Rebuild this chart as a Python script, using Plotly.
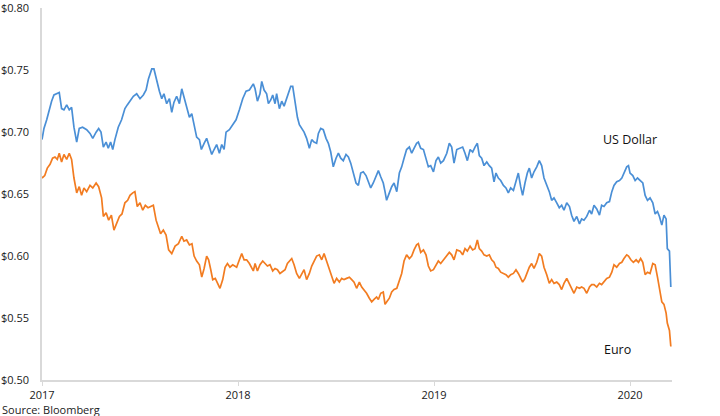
import plotly.graph_objects as go

# ---- Data (decimal years, value in $) ----
usd_dates = [
    2017.000, 2017.010, 2017.024, 2017.037, 2017.049, 2017.061, 2017.075, 2017.088, 2017.100, 2017.112,
    2017.126, 2017.139, 2017.151, 2017.163, 2017.177, 2017.190, 2017.207, 2017.228, 2017.245, 2017.259,
    2017.276, 2017.289, 2017.301, 2017.313, 2017.327, 2017.338, 2017.350, 2017.361, 2017.372, 2017.389,
    2017.406, 2017.423, 2017.435, 2017.449, 2017.466, 2017.483, 2017.500, 2017.517, 2017.531, 2017.543,
    2017.560, 2017.571, 2017.585, 2017.599, 2017.611, 2017.622, 2017.636, 2017.650, 2017.662, 2017.673,
    2017.687, 2017.701, 2017.713, 2017.724, 2017.738, 2017.752, 2017.764, 2017.776, 2017.789, 2017.803,
    2017.813, 2017.827, 2017.840, 2017.854, 2017.866, 2017.878, 2017.891, 2017.905, 2017.917, 2017.929,
    2017.939, 2017.956, 2017.973, 2017.990, 2018.007, 2018.024, 2018.041, 2018.058, 2018.078,
    2018.087, 2018.099, 2018.112, 2018.121, 2018.133, 2018.146, 2018.155, 2018.167, 2018.177, 2018.189,
    2018.197, 2018.211, 2018.223, 2018.235, 2018.245, 2018.257, 2018.269, 2018.279, 2018.291, 2018.303,
    2018.313, 2018.325, 2018.337, 2018.350, 2018.364, 2018.376, 2018.388, 2018.401, 2018.410, 2018.422,
    2018.435, 2018.449, 2018.461, 2018.473, 2018.486, 2018.500, 2018.512, 2018.524, 2018.537, 2018.551,
    2018.563, 2018.575, 2018.588, 2018.602, 2018.614, 2018.626, 2018.639, 2018.653, 2018.665, 2018.677,
    2018.690, 2018.704, 2018.716, 2018.728, 2018.741, 2018.750, 2018.758, 2018.772, 2018.784, 2018.796,
    2018.810, 2018.823, 2018.835, 2018.847, 2018.860, 2018.874, 2018.886, 2018.898, 2018.911, 2018.920,
    2018.932, 2018.946, 2018.959, 2018.971, 2018.983, 2018.997, 2019.010, 2019.022, 2019.034, 2019.048,
    2019.065, 2019.078, 2019.090, 2019.102, 2019.116,
    2019.133, 2019.146, 2019.158, 2019.170, 2019.184, 2019.197, 2019.209, 2019.221, 2019.231, 2019.243,
    2019.255, 2019.269, 2019.282, 2019.294, 2019.306, 2019.316, 2019.328, 2019.340, 2019.354, 2019.367,
    2019.379, 2019.391, 2019.405, 2019.418, 2019.430, 2019.442, 2019.452, 2019.464, 2019.476, 2019.486,
    2019.498, 2019.510, 2019.524, 2019.537, 2019.549, 2019.561, 2019.575, 2019.588, 2019.600, 2019.612,
    2019.626, 2019.639, 2019.651, 2019.663, 2019.677, 2019.691, 2019.702, 2019.714, 2019.728, 2019.742,
    2019.753, 2019.765, 2019.779, 2019.793, 2019.804, 2019.816, 2019.830, 2019.844, 2019.855, 2019.867,
    2019.881, 2019.895, 2019.907, 2019.918, 2019.932, 2019.946, 2019.958, 2019.969, 2019.983, 2019.992,
    2020.000, 2020.014, 2020.026, 2020.038, 2020.051, 2020.065, 2020.077, 2020.089, 2020.102, 2020.116,
    2020.128, 2020.140, 2020.150, 2020.162, 2020.173, 2020.184, 2020.190, 2020.201, 2020.208,
]
usd_values = [
    0.694, 0.703, 0.710, 0.719, 0.725, 0.730, 0.731, 0.732, 0.719, 0.718,
    0.722, 0.718, 0.720, 0.704, 0.692, 0.703, 0.704, 0.702, 0.699, 0.695,
    0.700, 0.703, 0.700, 0.688, 0.692, 0.687, 0.692, 0.686, 0.694, 0.704,
    0.710, 0.719, 0.722, 0.725, 0.729, 0.731, 0.727, 0.730, 0.734, 0.743,
    0.751, 0.751, 0.741, 0.733, 0.727, 0.731, 0.723, 0.727, 0.716, 0.724,
    0.729, 0.723, 0.735, 0.729, 0.721, 0.712, 0.715, 0.706, 0.696, 0.694,
    0.686, 0.691, 0.695, 0.688, 0.682, 0.686, 0.690, 0.683, 0.690, 0.686,
    0.700, 0.702, 0.706, 0.710, 0.718, 0.727, 0.733, 0.734, 0.739,
    0.735, 0.725, 0.731, 0.741, 0.734, 0.731, 0.723, 0.726, 0.730, 0.723,
    0.731, 0.719, 0.725, 0.721, 0.726, 0.730, 0.737, 0.737, 0.723, 0.712,
    0.706, 0.703, 0.700, 0.695, 0.687, 0.694, 0.692, 0.691, 0.699, 0.703,
    0.702, 0.695, 0.691, 0.684, 0.672, 0.679, 0.683, 0.679, 0.677, 0.682,
    0.680, 0.675, 0.667, 0.659, 0.657, 0.667, 0.668, 0.665, 0.660, 0.655,
    0.659, 0.664, 0.669, 0.664, 0.659, 0.652, 0.645, 0.651, 0.656, 0.659,
    0.652, 0.667, 0.672, 0.679, 0.686, 0.688, 0.683, 0.687, 0.691, 0.692,
    0.687, 0.686, 0.679, 0.672, 0.673, 0.668, 0.677, 0.680, 0.675, 0.677,
    0.683, 0.691, 0.688, 0.675, 0.686,
    0.687, 0.688, 0.683, 0.677, 0.686, 0.684, 0.688, 0.691, 0.681, 0.679,
    0.673, 0.676, 0.673, 0.671, 0.660, 0.667, 0.663, 0.661, 0.657, 0.655,
    0.651, 0.655, 0.653, 0.661, 0.667, 0.656, 0.649, 0.659, 0.667, 0.671,
    0.663, 0.668, 0.672, 0.677, 0.673, 0.663, 0.657, 0.652, 0.645, 0.647,
    0.643, 0.639, 0.641, 0.637, 0.643, 0.640, 0.633, 0.628, 0.632, 0.626,
    0.630, 0.629, 0.632, 0.637, 0.634, 0.641, 0.638, 0.633, 0.641, 0.640,
    0.643, 0.644, 0.652, 0.657, 0.660, 0.661, 0.663, 0.667, 0.672, 0.673,
    0.667, 0.665, 0.661, 0.663, 0.661, 0.659, 0.649, 0.645, 0.647, 0.643,
    0.634, 0.636, 0.632, 0.625, 0.633, 0.630, 0.606, 0.604, 0.575,
]

eur_dates = [
    2017.000, 2017.014, 2017.027, 2017.041, 2017.054, 2017.066, 2017.078, 2017.088, 2017.100, 2017.112,
    2017.126, 2017.139, 2017.151, 2017.163, 2017.177, 2017.190, 2017.202, 2017.214, 2017.228, 2017.245,
    2017.259, 2017.276, 2017.289, 2017.304, 2017.313, 2017.327, 2017.340, 2017.354, 2017.367, 2017.381,
    2017.395, 2017.408, 2017.423, 2017.437, 2017.449, 2017.463, 2017.474, 2017.486, 2017.500, 2017.514,
    2017.527, 2017.541, 2017.554, 2017.568, 2017.582, 2017.594, 2017.605, 2017.619, 2017.633, 2017.646,
    2017.662, 2017.679, 2017.696, 2017.713, 2017.724, 2017.738, 2017.752, 2017.765, 2017.776, 2017.789,
    2017.803, 2017.815, 2017.827, 2017.840, 2017.850, 2017.861, 2017.871, 2017.884, 2017.898, 2017.908,
    2017.922, 2017.934, 2017.946, 2017.959, 2017.973, 2017.993, 2018.007, 2018.019, 2018.031, 2018.044,
    2018.058, 2018.078,
    2018.087, 2018.099, 2018.112, 2018.126, 2018.138, 2018.150, 2018.163, 2018.177, 2018.189, 2018.201,
    2018.214, 2018.228, 2018.240, 2018.252, 2018.265, 2018.274, 2018.286, 2018.299, 2018.313, 2018.325,
    2018.337, 2018.350, 2018.364, 2018.376, 2018.388, 2018.401, 2018.415, 2018.427, 2018.439, 2018.452,
    2018.466, 2018.478, 2018.490, 2018.503, 2018.517, 2018.529, 2018.541, 2018.554, 2018.568, 2018.580,
    2018.592, 2018.605, 2018.619, 2018.631, 2018.643, 2018.656, 2018.670, 2018.682, 2018.694, 2018.707,
    2018.716, 2018.728, 2018.741, 2018.750, 2018.758, 2018.772, 2018.784, 2018.796, 2018.810, 2018.823,
    2018.835, 2018.847, 2018.860, 2018.874, 2018.886, 2018.898, 2018.911, 2018.920, 2018.932, 2018.946,
    2018.959, 2018.971, 2018.983, 2018.997, 2019.010, 2019.022, 2019.034, 2019.048, 2019.065, 2019.078,
    2019.090, 2019.102, 2019.116,
    2019.133, 2019.146, 2019.158, 2019.170, 2019.184, 2019.197, 2019.209, 2019.221, 2019.231, 2019.243,
    2019.255, 2019.269, 2019.282, 2019.294, 2019.306, 2019.316, 2019.328, 2019.340, 2019.354, 2019.367,
    2019.379, 2019.391, 2019.405, 2019.418, 2019.430, 2019.442, 2019.452, 2019.464, 2019.476, 2019.486,
    2019.498, 2019.510, 2019.524, 2019.537, 2019.549, 2019.561, 2019.575, 2019.588, 2019.600, 2019.612,
    2019.626, 2019.639, 2019.651, 2019.663, 2019.677, 2019.691, 2019.702, 2019.714, 2019.728, 2019.742,
    2019.753, 2019.765, 2019.779, 2019.793, 2019.804, 2019.816, 2019.830, 2019.844, 2019.855, 2019.867,
    2019.881, 2019.895, 2019.907, 2019.918, 2019.932, 2019.946, 2019.958, 2019.969, 2019.983, 2019.992,
    2020.004, 2020.017, 2020.031, 2020.043, 2020.054, 2020.065, 2020.077, 2020.089, 2020.102, 2020.116,
    2020.128, 2020.140, 2020.150, 2020.162, 2020.173, 2020.184, 2020.190, 2020.201, 2020.208,
]
eur_values = [
    0.663, 0.665, 0.671, 0.674, 0.679, 0.680, 0.678, 0.683, 0.676, 0.682,
    0.678, 0.683, 0.678, 0.663, 0.651, 0.656, 0.649, 0.655, 0.652, 0.657,
    0.655, 0.659, 0.656, 0.647, 0.632, 0.635, 0.629, 0.633, 0.621, 0.626,
    0.632, 0.634, 0.643, 0.645, 0.649, 0.651, 0.652, 0.640, 0.643, 0.637,
    0.641, 0.639, 0.640, 0.641, 0.629, 0.624, 0.618, 0.621, 0.617, 0.605,
    0.602, 0.608, 0.610, 0.616, 0.612, 0.613, 0.609, 0.610, 0.600, 0.596,
    0.593, 0.583, 0.590, 0.600, 0.597, 0.589, 0.581, 0.582, 0.578, 0.574,
    0.581, 0.591, 0.594, 0.591, 0.593, 0.591, 0.597, 0.602, 0.597, 0.597,
    0.594, 0.588,
    0.594, 0.588, 0.593, 0.596, 0.594, 0.592, 0.593, 0.588, 0.590, 0.589,
    0.586, 0.588, 0.589, 0.594, 0.596, 0.598, 0.593, 0.586, 0.582, 0.586,
    0.589, 0.581, 0.586, 0.592, 0.596, 0.600, 0.601, 0.597, 0.602, 0.596,
    0.590, 0.583, 0.578, 0.582, 0.579, 0.582, 0.581, 0.582, 0.583, 0.581,
    0.579, 0.574, 0.579, 0.575, 0.573, 0.570, 0.566, 0.563, 0.565, 0.567,
    0.565, 0.570, 0.571, 0.561, 0.563, 0.566, 0.571, 0.573, 0.574, 0.581,
    0.586, 0.596, 0.601, 0.598, 0.600, 0.605, 0.609, 0.610, 0.603, 0.605,
    0.601, 0.592, 0.588, 0.589, 0.593, 0.596, 0.594, 0.597, 0.600, 0.603,
    0.601, 0.597, 0.605,
    0.604, 0.601, 0.606, 0.604, 0.608, 0.605, 0.606, 0.613, 0.606, 0.604,
    0.601, 0.600, 0.601, 0.597, 0.595, 0.591, 0.590, 0.587, 0.586, 0.585,
    0.583, 0.585, 0.586, 0.589, 0.586, 0.582, 0.579, 0.582, 0.587, 0.591,
    0.594, 0.590, 0.595, 0.602, 0.600, 0.591, 0.585, 0.578, 0.581, 0.578,
    0.579, 0.577, 0.573, 0.578, 0.582, 0.577, 0.574, 0.570, 0.575, 0.574,
    0.575, 0.574, 0.570, 0.575, 0.577, 0.577, 0.575, 0.578, 0.577, 0.579,
    0.582, 0.583, 0.587, 0.593, 0.591, 0.594, 0.595, 0.598, 0.601, 0.600,
    0.597, 0.595, 0.597, 0.595, 0.598, 0.595, 0.585, 0.587, 0.586, 0.594,
    0.593, 0.583, 0.573, 0.563, 0.561, 0.554, 0.546, 0.540, 0.527,
]

year_ticks = [2017, 2018, 2019, 2020]
year_labels = ["2017", "2018", "2019", "2020"]
y_ticks = [0.50, 0.55, 0.60, 0.65, 0.70, 0.75, 0.80]
series_labels = ["US Dollar", "Euro"]

assert len(usd_dates) == len(usd_values), (len(usd_dates), len(usd_values))
assert len(eur_dates) == len(eur_values), (len(eur_dates), len(eur_values))

BLUE = "#4A8FD6"
ORANGE = "#F27C21"
FONT = "Open Sans"

fig = go.Figure()
fig.add_trace(go.Scatter(x=usd_dates, y=usd_values, mode="lines", name=series_labels[0],
                         line=dict(color=BLUE, width=1.7)))
fig.add_trace(go.Scatter(x=eur_dates, y=eur_values, mode="lines", name=series_labels[1],
                         line=dict(color=ORANGE, width=1.7)))

fig.add_annotation(x=2020.0, y=0.6944, text=series_labels[0], showarrow=False,
                   font=dict(family=FONT, size=12.5, color="#111"))
fig.add_annotation(x=2019.934, y=0.5243, text=series_labels[1], showarrow=False,
                   font=dict(family=FONT, size=12.5, color="#111"))
fig.add_annotation(x=0, y=0, xref="paper", yref="paper", xanchor="left", yanchor="middle",
                   xshift=-42, yshift=-29, text="Source: Bloomberg", showarrow=False,
                   font=dict(family=FONT, size=11, color="#222"))

fig.update_layout(
    width=720, height=416,
    margin=dict(l=42, r=48, t=8, b=36),
    paper_bgcolor="white", plot_bgcolor="white",
    showlegend=False,
    font=dict(family=FONT, size=11, color="#222"),
)
fig.update_xaxes(range=[2017, 2020.214], tickvals=year_ticks, ticktext=year_labels, automargin=False,
                 showgrid=False, zeroline=False, showline=True, linecolor="#d9d9d9", linewidth=1.5,
                 ticks="outside", ticklen=4, tickcolor="#d9d9d9", tickfont=dict(size=11, color="#1a1a1a"))
fig.update_yaxes(range=[0.5, 0.8002], tickvals=y_ticks, tickformat="$.2f", automargin=False,
                 showgrid=False, zeroline=False, showline=True, linecolor="#d9d9d9", linewidth=1.5,
                 ticks="", ticklabelstandoff=9, tickfont=dict(size=11, color="#1a1a1a"))

fig.write_html("out.html")
